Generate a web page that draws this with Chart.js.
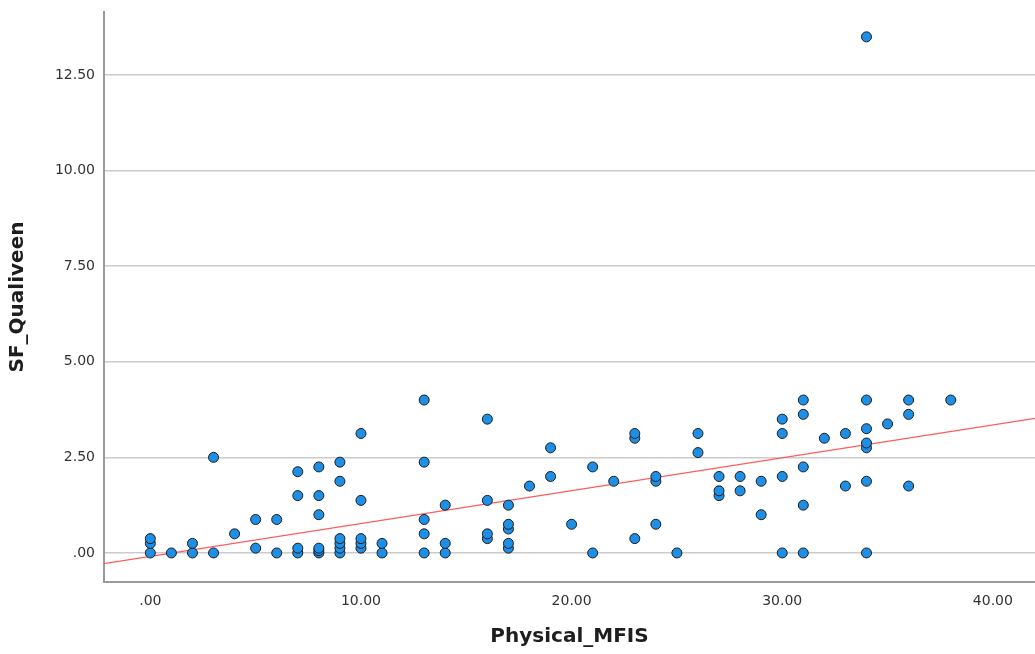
<!DOCTYPE html>
<html>
<head>
<meta charset="utf-8">
<script src="https://cdn.jsdelivr.net/npm/chart.js@4.4.0/dist/chart.umd.min.js"></script>
<style>
  html, body { margin: 0; padding: 0; background: #ffffff; }
  #mfisChart { display: block; }
</style>
</head>
<body>
<canvas id="mfisChart" width="1035" height="654"></canvas>
<script>
// Data block: one entry per case (Physical_MFIS, SF_Qualiveen)
const physicalMfis = [
    0, 0, 0, 1, 2, 2, 3, 3, 4, 5, 5, 6, 6,
    7, 7, 7, 7, 8, 8, 8, 8, 8, 8, 9, 9, 9, 9, 9, 9,
    10, 10, 10, 10, 10, 11, 11, 13, 13, 13, 13, 13, 14, 14, 14,
    16, 16, 16, 16, 17, 17, 17, 17, 17, 18, 19, 19, 20, 21, 21, 22,
    23, 23, 23, 24, 24, 24, 25, 26, 26, 27, 27, 27, 28, 28, 29, 29,
    30, 30, 30, 30, 31, 31, 31, 31, 31, 32, 33, 33,
    34, 34, 34, 34, 34, 34, 34, 35, 36, 36, 36, 38
];
const sfQualiveen = [
    0, 0.25, 0.375, 0, 0, 0.25, 0, 2.5, 0.5, 0.125, 0.875, 0, 0.875,
    0, 0.125, 1.5, 2.125, 0, 0.0625, 0.125, 1.0, 1.5, 2.25, 0, 0.125, 0.25, 0.375, 1.875, 2.375,
    0.125, 0.25, 0.375, 1.375, 3.125, 0, 0.25, 0, 0.5, 0.875, 2.375, 4.0, 0, 0.25, 1.25,
    0.375, 0.5, 1.375, 3.5, 0.125, 0.25, 0.625, 0.75, 1.25, 1.75, 2.0, 2.75, 0.75, 0, 2.25, 1.875,
    0.375, 3.0, 3.125, 0.75, 1.875, 2.0, 0, 2.625, 3.125, 1.5, 1.625, 2.0, 1.625, 2.0, 1.0, 1.875,
    0, 2.0, 3.125, 3.5, 0, 1.25, 2.25, 3.625, 4.0, 3.0, 1.75, 3.125,
    0, 1.875, 2.75, 2.875, 3.25, 4.0, 13.5, 3.375, 1.75, 3.625, 4.0, 4.0
];

// Fit line end points (read at the frame edges)
const fitX = [-2.2, 42.0];
const fitY = [-0.28, 3.52];

// Tick values shown on the axes
const xTicks = [0, 10, 20, 30, 40];
const yTicks = [0, 2.5, 5, 7.5, 10, 12.5];

// SPSS style labels: ".00", "10.00"
function spssLabel(v) {
    const s = Number(v).toFixed(2);
    return s.startsWith('0.') ? s.slice(1) : s;
}

const points = physicalMfis.map((x, i) => ({ x: x, y: sfQualiveen[i] }));
const fitLine = fitX.map((x, i) => ({ x: x, y: fitY[i] }));

const tickFont = { family: 'DejaVu Sans', size: 14 };
const titleFont = { family: 'DejaVu Sans', size: 20, weight: 'bold' };

const mfisConfig = {
    type: 'scatter',
    data: {
        datasets: [{
            label: 'Cases',
            data: points,
            backgroundColor: '#1e8fe6',
            borderColor: '#1c1c1c',
            borderWidth: 1,
            pointRadius: 5,
            order: 1
        }, {
            label: 'Fit',
            type: 'line',
            data: fitLine,
            borderColor: '#ff5c5c',
            borderWidth: 1.2,
            pointRadius: 0,
            fill: false,
            order: 2
        }]
    },
    options: {
        responsive: false,
        animation: false,
        layout: {
            autoPadding: false,  // frame runs to the right edge
            padding: { top: 12, right: 0, left: 0, bottom: 0 }
        },
        plugins: {
            legend: { display: false },
            tooltip: { enabled: false }
        },
        scales: {
            x: {
                type: 'linear',
                min: -2.2,
                max: 42.0,
                afterBuildTicks(scale) { scale.ticks = xTicks.map(v => ({ value: v })); },
                afterFit(scale) {
                    scale.height = 72;
                    scale.paddingLeft = 0;
                    scale.paddingRight = 0;
                },
                grid: { display: false, drawTicks: false },
                border: { display: true, color: '#9a9a9a', width: 2 },
                ticks: {
                    padding: 11,
                    color: '#333333',
                    font: tickFont,
                    maxRotation: 0,
                    callback: v => spssLabel(v)
                },
                title: {
                    display: true,
                    text: 'Physical_MFIS',
                    color: '#1e1e1e',
                    font: titleFont,
                    padding: { top: 0, bottom: 5 }
                }
            },
            y: {
                type: 'linear',
                min: -0.76,
                max: 14.15,
                afterBuildTicks(scale) { scale.ticks = yTicks.map(v => ({ value: v })); },
                afterFit(scale) {
                    scale.width = 104;
                    scale.paddingTop = 0;
                    scale.paddingBottom = 0;
                },
                grid: { color: '#cbcbcb', lineWidth: 1.5, drawTicks: false },
                border: { display: true, color: '#9a9a9a', width: 2 },
                ticks: {
                    padding: 9,
                    color: '#333333',
                    font: tickFont,
                    callback: v => spssLabel(v)
                },
                title: {
                    display: true,
                    text: 'SF_Qualiveen',
                    color: '#1e1e1e',
                    font: titleFont,
                    padding: { top: 6, bottom: 0 }
                }
            }
        }
    }
};

const mfisChart = new Chart(document.getElementById('mfisChart'), mfisConfig);
</script>
</body>
</html>
